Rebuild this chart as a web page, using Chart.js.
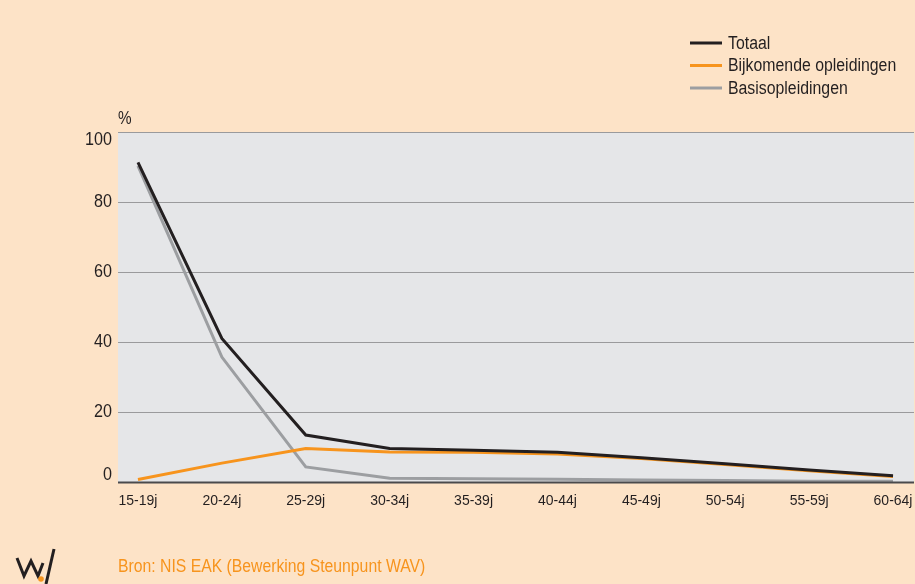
<!DOCTYPE html>
<html>
<head>
<meta charset="utf-8">
<script src="https://cdn.jsdelivr.net/npm/chart.js@4"></script>
<style>
  html, body { margin: 0; padding: 0; background: #fde3c7; }
  #wrap { width: 915px; height: 584px; position: relative; }
</style>
</head>
<body>
<div id="wrap"><canvas id="chart"></canvas></div>
<script>
const categories = ["15-19j", "20-24j", "25-29j", "30-34j", "35-39j", "40-44j", "45-49j", "50-54j", "55-59j", "60-64j"];
const totaal = [91.3, 41, 13.4, 9.6, 9.1, 8.5, 6.9, 5.2, 3.4, 1.8];
const bijkomend = [0.7, 5.4, 9.6, 8.6, 8.5, 8.0, 6.7, 5.0, 3.2, 1.6];
const basis = [90.3, 35.7, 4.3, 1.1, 0.9, 0.8, 0.6, 0.4, 0.2, 0.2];
const yTicks = [0, 20, 40, 60, 80, 100];

const FONT = "'Liberation Sans', Arial, sans-serif";
const INK = "#231f20";

const toPoints = arr => arr.map((v, i) => ({ x: i, y: v }));

// text squeezed horizontally, to get close to the condensed face of the original
function narrowText(ctx, text, x, y, size, color, align, sx) {
  ctx.save();
  ctx.font = size + "px " + FONT;
  ctx.fillStyle = color;
  ctx.textBaseline = "middle";
  ctx.textAlign = align || "left";
  ctx.translate(x, y);
  ctx.scale(sx || 0.86, 1);
  ctx.fillText(text, 0, 0);
  ctx.restore();
}

// grey plot area, y labels, "%" label, legend, source line and logo
const decor = {
  id: "decor",
  beforeDraw(chart) {
    const { ctx, chartArea: a } = chart;
    ctx.save();
    ctx.fillStyle = "#e5e6e8";
    ctx.fillRect(a.left, a.top, a.right - a.left, a.bottom - a.top);
    ctx.restore();
  },
  afterDraw(chart) {
    const { ctx, chartArea: a } = chart;
    const yScale = chart.scales.y;
    ctx.save();
    // axis line at 0
    ctx.strokeStyle = "#4a4a4c";
    ctx.lineWidth = 2;
    ctx.beginPath();
    ctx.moveTo(a.left, a.bottom + 0.5);
    ctx.lineTo(a.right, a.bottom + 0.5);
    ctx.stroke();
    ctx.restore();

    // y labels, kept inside the plot height like the original
    yTicks.forEach(v => {
      let y = yScale.getPixelForValue(v);
      y = Math.min(Math.max(y, a.top + 8), a.bottom - 7);
      narrowText(ctx, String(v), 112, y, 19, INK, "right", 0.85);
    });

    narrowText(ctx, "%", 118, 119, 18, INK, "left", 0.85);

    // legend
    chart.data.datasets.forEach((ds, i) => {
      const y = 43 + i * 22.5;
      ctx.save();
      ctx.strokeStyle = ds.borderColor;
      ctx.lineWidth = 3;
      ctx.beginPath();
      ctx.moveTo(690, y);
      ctx.lineTo(722, y);
      ctx.stroke();
      ctx.restore();
      narrowText(ctx, ds.label, 728, y + 1, 18, INK, "left", 0.88);
    });

    // source
    narrowText(ctx, "Bron: NIS EAK (Bewerking Steunpunt WAV)", 118, 567, 18, "#f7941d", "left", 0.875);

    // logo
    ctx.save();
    ctx.strokeStyle = INK;
    ctx.lineWidth = 3;
    ctx.lineJoin = "miter";
    ctx.beginPath();
    ctx.moveTo(17, 558);
    ctx.lineTo(24, 576);
    ctx.lineTo(31, 561);
    ctx.lineTo(38, 576);
    ctx.lineTo(43, 563);
    ctx.stroke();
    ctx.beginPath();
    ctx.moveTo(46, 584);
    ctx.lineTo(54, 549);
    ctx.stroke();
    ctx.fillStyle = "#f7941d";
    ctx.beginPath();
    ctx.arc(41, 579, 2.8, 0, Math.PI * 2);
    ctx.fill();
    ctx.restore();
  }
};

new Chart(document.getElementById("chart"), {
  type: "line",
  data: {
    datasets: [
      { label: "Totaal", data: toPoints(totaal), borderColor: INK, order: 1 },
      { label: "Bijkomende opleidingen", data: toPoints(bijkomend), borderColor: "#f7941d", order: 2 },
      { label: "Basisopleidingen", data: toPoints(basis), borderColor: "#9c9ea1", order: 3 }
    ]
  },
  options: {
    responsive: true,
    maintainAspectRatio: false,
    animation: false,
    layout: { padding: { top: 132, right: 1, left: 0, bottom: 0 } },
    elements: {
      line: { borderWidth: 3, tension: 0, borderCapStyle: "butt" },
      point: { radius: 0 }
    },
    plugins: { legend: { display: false }, tooltip: { enabled: false } },
    scales: {
      x: {
        type: "linear",
        min: -0.238,
        max: 9.25,
        grid: { display: false, drawTicks: false },
        border: { display: false },
        afterFit: s => {
          s.height = 102;
          s.paddingLeft = 0;
          s.paddingRight = 0; // the last label may run to the edge
        },
        ticks: {
          stepSize: 1,
          includeBounds: false,
          autoSkip: false,
          maxRotation: 0,
          padding: 11,
          color: INK,
          font: { family: FONT, size: 14 },
          callback: v => categories[v] ?? ""
        }
      },
      y: {
        min: 0,
        max: 100,
        afterFit: s => { s.width = 118; },
        afterBuildTicks: s => { s.ticks = yTicks.map(v => ({ value: v })); },
        grid: { color: "#9a9a9c", lineWidth: 1, drawTicks: false },
        border: { display: false },
        ticks: { display: false }
      }
    }
  },
  plugins: [decor]
});
</script>
</body>
</html>
